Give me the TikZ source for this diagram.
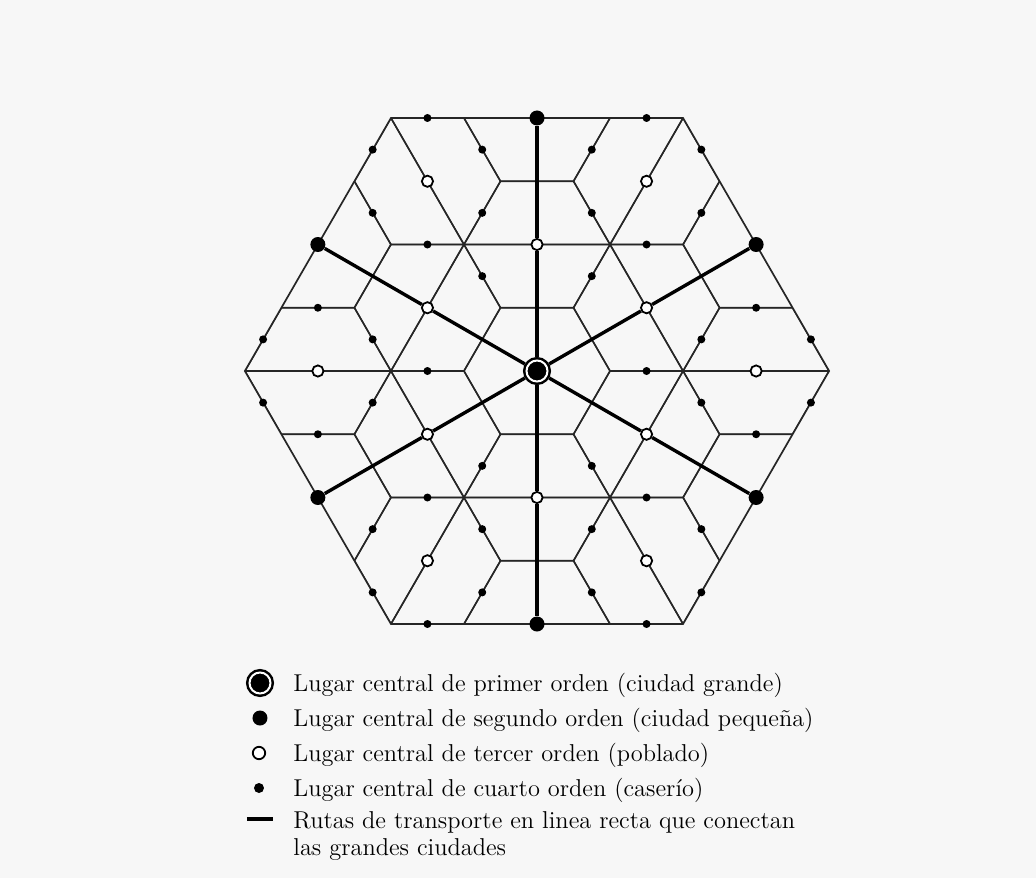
\documentclass[tikz,border=0pt]{standalone}
\usetikzlibrary{positioning}

\begin{document}
\begin{tikzpicture}[
  x=0.5pt, y=0.5pt,
  cell/.style={line width=0.75pt, black!85},
  borde/.style={line width=0.85pt, black!85},
  ruta/.style={line width=1.7pt, black},
  primer/.style={circle, inner sep=0pt, outer sep=1.75pt, minimum size=10.5pt, fill=black,
                 draw=black, line width=1.25pt, double=white, double distance=1pt},
  segundo/.style={circle, inner sep=0pt, minimum size=7.5pt, fill=black},
  tercero/.style={circle, inner sep=0pt, minimum size=5.6pt, fill=white, draw=black, line width=0.9pt},
  cuarto/.style={circle, inner sep=0pt, minimum size=4pt, fill=black},
  txt/.style={anchor=base west, inner sep=0pt, font=\fontsize{12.2}{14}\selectfont},
]
% --- fondo ---
\fill[black!3] (-537,371) rectangle (499,-507);

% --- areas de mercado (recortadas al hexagono grande) ---
\begin{scope}
  \clip (0:292.1) -- (60:292.1) -- (120:292.1) -- (180:292.1) -- (240:292.1) -- (300:292.1) -- cycle;
  % segundo orden
  \draw[cell] (0:146) -- (60:146) -- (120:146) -- (180:146) -- (240:146) -- (300:146) -- cycle;
  \foreach \a in {30,90,...,330}
    \draw[cell, shift={(\a:253)}] (0:146) -- (60:146) -- (120:146) -- (180:146) -- (240:146) -- (300:146) -- cycle;
  % tercer orden
  \draw[cell] (0:73) -- (60:73) -- (120:73) -- (180:73) -- (240:73) -- (300:73) -- cycle;
  \foreach \a in {0,60,...,300} {
    \draw[cell, shift={({\a+30}:126.5)}] (0:73) -- (60:73) -- (120:73) -- (180:73) -- (240:73) -- (300:73) -- cycle;
    \draw[cell, shift={(\a:219.1)}] (0:73) -- (60:73) -- (120:73) -- (180:73) -- (240:73) -- (300:73) -- cycle;
    \draw[cell, shift={({\a+30}:253)}] (0:73) -- (60:73) -- (120:73) -- (180:73) -- (240:73) -- (300:73) -- cycle;
  }
\end{scope}
\draw[borde] (0:292.1) -- (60:292.1) -- (120:292.1) -- (180:292.1) -- (240:292.1) -- (300:292.1) -- cycle;

% --- lugares centrales ---
\node[primer] (c0) at (0,0) {};
\foreach \a [count=\k] in {30,90,...,330} {
  \node[tercero] (t\k) at (\a:126.5) {};
  \node[segundo] (s\k) at (\a:253) {};
}
\foreach \a [count=\k] in {0,60,...,300}
  \node[tercero] (u\k) at (\a:219.1) {};
% caserios: puntos medios entre lugares de tercer orden (no sobre las rutas)
\foreach \i in {-8,...,8} {
  \foreach \j in {-8,...,8} {
    \pgfmathtruncatemacro\dentro{abs(\i+2*\j)<=8 && abs(2*\i+\j)<=8 && abs(\j-\i)<=8 && !(iseven(\i) && iseven(\j)) && \i*\j*(\i+\j)!=0}
    \ifnum\dentro=1
      \node[cuarto] (h\i\j) at ({\i*54.78},{(\i/2+\j)*63.25}) {};
    \fi
  }
}

% --- rutas entre grandes ciudades ---
\foreach \k in {1,...,6}
  \draw[ruta] (c0) -- (t\k) -- (s\k);

% --- leyenda ---
\node[primer] (lprimer) at (-277,-312) {};
\node[segundo] (lsegundo) at (-277,-347) {};
\node[tercero, minimum size=6.2pt] (ltercero) at (-278,-382) {};
\node[cuarto, minimum size=5pt] (lcuarto) at (-278,-417) {};
\draw[ruta] (-290,-448) -- (-264,-448);

\node[txt] (tprimer) at (-244,-320) {Lugar central de primer orden (ciudad grande)};
\node[txt] (tsegundo) at (-244,-355.5) {Lugar central de segundo orden (ciudad pequeña)};
\node[txt] (ttercero) at (-244,-390.5) {Lugar central de tercer orden (poblado)};
\node[txt] (tcuarto) at (-244,-425.5) {Lugar central de cuarto orden (caserío)};
\node[txt] (truta) at (-244,-457) {Rutas de transporte en linea recta que conectan};
\node[txt] (trutados) at (-244,-484) {las grandes ciudades};
\end{tikzpicture}
\end{document}
